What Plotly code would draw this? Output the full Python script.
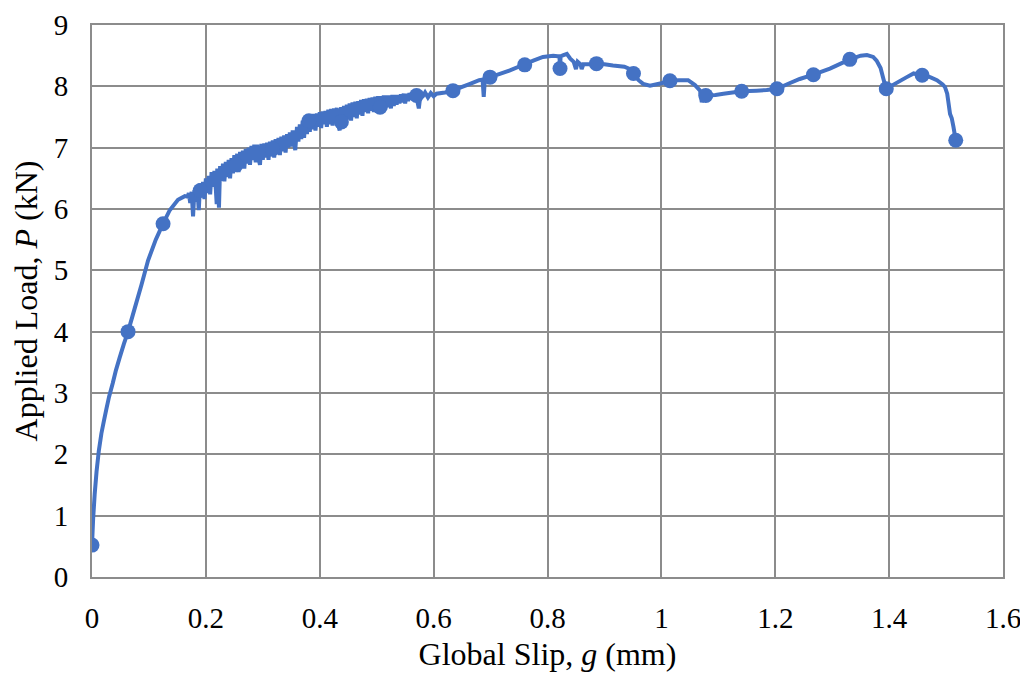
import plotly.graph_objects as go

# ---- Load-slip record (slip in mm, load in kN) ----
# initial rise
rise_slip = [0, 0.002, 0.0047, 0.008, 0.012, 0.0165, 0.021, 0.0253, 0.030, 0.0364, 0.042, 0.0487,
             0.056, 0.0633, 0.075, 0.0868, 0.0984, 0.112, 0.1248, 0.1365, 0.151, 0.163, 0.168]
rise_load = [0.52, 0.95, 1.35, 1.72, 2.06, 2.34, 2.55, 2.74, 2.94, 3.16, 3.37, 3.58,
             3.80, 4.00, 4.38, 4.76, 5.16, 5.50, 5.76, 5.98, 6.15, 6.21, 6.20]

# noisy region (dense scatter of the recorded signal)
band_slip = [0.1700, 0.1725, 0.1750, 0.1775, 0.1800, 0.1825, 0.1850, 0.1875, 0.1900, 0.1925,
             0.1950, 0.1975, 0.2000, 0.2025, 0.2050, 0.2075, 0.2100, 0.2125, 0.2150, 0.2175,
             0.2190, 0.2200, 0.2230, 0.2250, 0.2275, 0.2300, 0.2325, 0.2350, 0.2375, 0.2400,
             0.2425, 0.2450, 0.2475, 0.2500, 0.2525, 0.2550, 0.2575, 0.2600, 0.2625, 0.2650,
             0.2675, 0.2700, 0.2725, 0.2750, 0.2775, 0.2800, 0.2825, 0.2850, 0.2875, 0.2900,
             0.2925, 0.2950, 0.2975, 0.3000, 0.3025, 0.3050, 0.3075, 0.3100, 0.3125, 0.3150,
             0.3175, 0.3200, 0.3225, 0.3250, 0.3275, 0.3300, 0.3325, 0.3350, 0.3375, 0.3400,
             0.3425, 0.3450, 0.3475, 0.3500, 0.3525, 0.3550, 0.3570, 0.3600, 0.3625, 0.3650,
             0.3675, 0.3700, 0.3725, 0.3750, 0.3775, 0.3800, 0.3825, 0.3850, 0.3875, 0.3900,
             0.3925, 0.3950, 0.3975, 0.4000, 0.4025, 0.4050, 0.4075, 0.4100, 0.4125, 0.4150,
             0.4175, 0.4200, 0.4225, 0.4250, 0.4275, 0.4300, 0.4325, 0.4350, 0.4375, 0.4400,
             0.4425, 0.4450, 0.4475, 0.4500, 0.4525, 0.4550, 0.4575, 0.4600, 0.4625, 0.4650,
             0.4675, 0.4700, 0.4725, 0.4750, 0.4775, 0.4800, 0.4825, 0.4850, 0.4875, 0.4900,
             0.4925, 0.4950, 0.4975, 0.5000, 0.5025, 0.5050, 0.5075, 0.5100, 0.5125, 0.5150,
             0.5175, 0.5200, 0.5225, 0.5250, 0.5275, 0.5300, 0.5325, 0.5350, 0.5375, 0.5400,
             0.5425, 0.5450, 0.5475, 0.5500, 0.5525, 0.5550, 0.5575, 0.5600, 0.5625, 0.5650,
             0.5675, 0.5700, 0.5740, 0.5775, 0.5800, 0.5850, 0.5900, 0.5950, 0.6000, 0.6050]
band_load = [6.26, 6.10, 6.28, 5.88, 6.31, 6.12, 6.34, 5.98, 6.42, 6.20,
             6.44, 6.16, 6.50, 6.26, 6.54, 6.24, 6.60, 6.36, 6.62, 6.32,
             6.08, 6.66, 6.02, 6.70, 6.46, 6.74, 6.45, 6.77, 6.52, 6.80,
             6.50, 6.83, 6.58, 6.88, 6.64, 6.90, 6.60, 6.93, 6.70, 6.95,
             6.66, 6.98, 6.74, 7.00, 6.72, 7.03, 6.80, 7.05, 6.76, 7.05,
             6.82, 6.72, 7.06, 6.80, 7.07, 6.84, 7.08, 6.80, 7.10, 6.86,
             7.12, 6.84, 7.14, 6.90, 7.16, 6.88, 7.18, 6.94, 7.20, 6.92,
             7.22, 7.00, 7.25, 7.02, 7.28, 7.06, 6.96, 7.34, 7.10, 7.38,
             7.14, 7.44, 7.16, 7.48, 7.22, 7.50, 7.26, 7.52, 7.30, 7.55,
             7.28, 7.56, 7.34, 7.58, 7.32, 7.59, 7.38, 7.60, 7.34, 7.62,
             7.38, 7.63, 7.36, 7.64, 7.40, 7.65, 7.36, 7.28, 7.66, 7.42,
             7.68, 7.44, 7.70, 7.46, 7.72, 7.44, 7.74, 7.50, 7.75, 7.48,
             7.76, 7.54, 7.78, 7.52, 7.79, 7.58, 7.80, 7.56, 7.81, 7.60,
             7.82, 7.58, 7.83, 7.62, 7.84, 7.60, 7.84, 7.64, 7.85, 7.62,
             7.85, 7.66, 7.85, 7.64, 7.86, 7.68, 7.86, 7.70, 7.86, 7.72,
             7.87, 7.74, 7.88, 7.72, 7.88, 7.76, 7.89, 7.78, 7.90, 7.80,
             7.90, 7.82, 7.64, 7.91, 7.82, 7.90, 7.82, 7.89, 7.84, 7.88]

# peak / post-peak region
tail_slip = [0.620, 0.634, 0.650, 0.664, 0.680, 0.686, 0.688, 0.690, 0.699, 0.715, 0.734, 0.760, 0.775, 0.792,
             0.810, 0.818, 0.821, 0.822, 0.823, 0.828, 0.834, 0.840, 0.846, 0.850, 0.853, 0.858, 0.860, 0.863,
             0.875, 0.886, 0.900, 0.915, 0.935, 0.945, 0.951, 0.960, 0.968, 0.980, 1.000, 1.015, 1.030, 1.047,
             1.059, 1.068, 1.071, 1.074, 1.078, 1.095, 1.109, 1.125, 1.141, 1.167, 1.185, 1.203, 1.225, 1.243,
             1.267, 1.296, 1.331, 1.350, 1.361, 1.372, 1.378, 1.385, 1.390, 1.393, 1.395, 1.410, 1.431, 1.443,
             1.458, 1.472, 1.484, 1.494, 1.498, 1.502, 1.504, 1.507, 1.510, 1.513, 1.517]
tail_load = [7.90, 7.93, 7.99, 8.04, 8.10, 8.11, 7.83, 8.12, 8.15, 8.20, 8.26, 8.36, 8.42, 8.48,
             8.50, 8.49, 8.49, 8.29, 8.49, 8.51, 8.53, 8.45, 8.40, 8.28, 8.40, 8.36, 8.28, 8.36,
             8.36, 8.37, 8.36, 8.34, 8.32, 8.28, 8.21, 8.10, 8.04, 8.01, 8.05, 8.09, 8.10, 8.10,
             8.02, 7.93, 7.74, 7.86, 7.85, 7.86, 7.88, 7.90, 7.92, 7.93, 7.94, 7.96, 8.05, 8.12,
             8.19, 8.29, 8.44, 8.50, 8.51, 8.48, 8.42, 8.30, 8.12, 8.02, 7.96, 8.04, 8.15, 8.21,
             8.18, 8.15, 8.10, 8.03, 7.99, 7.88, 7.75, 7.55, 7.48, 7.34, 7.12]

# Marker points
marker_slip = [0, 0.0633, 0.1248, 0.190, 0.253, 0.317, 0.381, 0.438, 0.506, 0.570, 0.634, 0.699, 0.760,
               0.822, 0.886, 0.951, 1.015, 1.078, 1.141, 1.203, 1.267, 1.331, 1.395, 1.458, 1.517]
marker_load = [0.52, 4.00, 5.76, 6.30, 6.72, 6.98, 7.44, 7.42, 7.66, 7.85, 7.93, 8.15, 8.35,
               8.29, 8.37, 8.21, 8.09, 7.85, 7.92, 7.96, 8.19, 8.44, 7.96, 8.18, 7.12]

x_ticks = [0, 0.2, 0.4, 0.6, 0.8, 1.0, 1.2, 1.4, 1.6]
x_tick_labels = ["0", "0.2", "0.4", "0.6", "0.8", "1", "1.2", "1.4", "1.6"]
y_ticks = [0, 1, 2, 3, 4, 5, 6, 7, 8, 9]

blue = "#4472C4"
grid = "#8c8c8c"
font_family = "Liberation Serif, Times New Roman, serif"

slip = rise_slip + band_slip + tail_slip
load = rise_load + band_load + tail_load

fig = go.Figure()
fig.add_trace(go.Scatter(x=slip, y=load, mode="lines",
                         line=dict(color=blue, width=4, simplify=False), showlegend=False))
fig.add_trace(go.Scatter(x=marker_slip, y=marker_load, mode="markers",
                         marker=dict(color=blue, size=15), showlegend=False))

fig.update_layout(
    width=1020, height=669,
    margin=dict(l=84, r=25, t=17, b=100, autoexpand=False),
    paper_bgcolor="white", plot_bgcolor="white",
    font=dict(family=font_family, size=29, color="black"),
    xaxis=dict(range=[0, 1.6], tickvals=x_ticks, ticktext=x_tick_labels,
               showgrid=True, gridcolor=grid, gridwidth=2,
               showline=True, linecolor=grid, linewidth=2, mirror=True,
               zeroline=False, ticks="", ticklabelstandoff=14, automargin=False,
               title=dict(text="Global Slip, <i>g</i> (mm)", font=dict(size=32), standoff=10)),
    yaxis=dict(range=[0, 9], tickvals=y_ticks,
               showgrid=True, gridcolor=grid, gridwidth=2,
               showline=True, linecolor=grid, linewidth=2, mirror=True,
               zeroline=False, ticks="", ticklabelstandoff=16, automargin=False,
               title=dict(text="Applied Load, <i>P</i> (kN)", font=dict(size=32), standoff=12)),
)

fig.write_html("out.html")
